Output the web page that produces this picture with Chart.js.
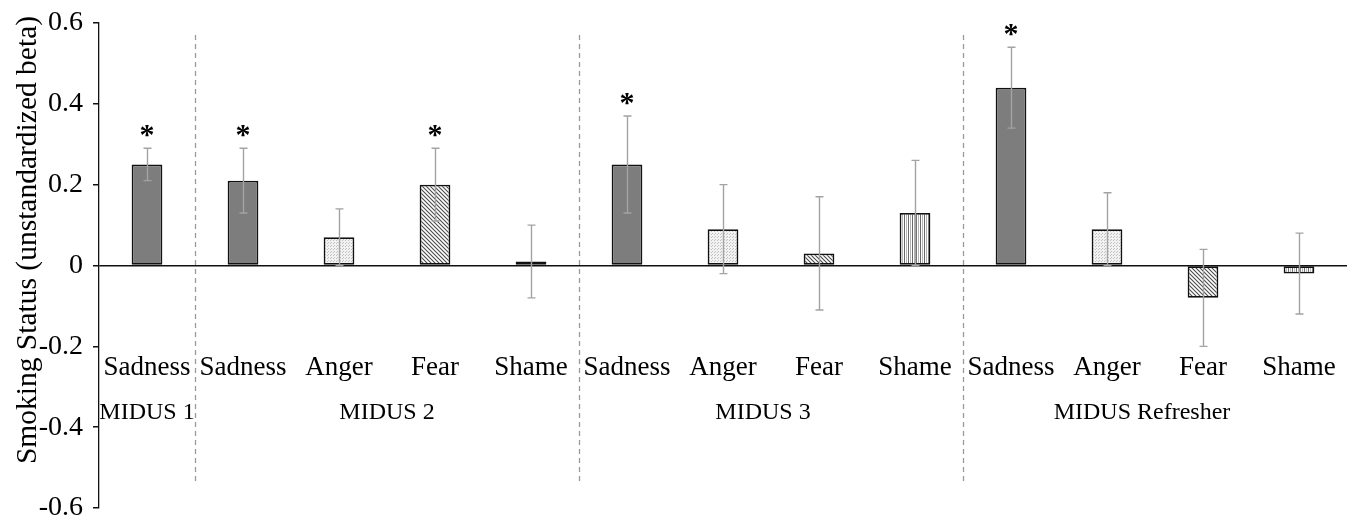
<!DOCTYPE html>
<html>
<head>
<meta charset="utf-8">
<script src="https://cdn.jsdelivr.net/npm/chart.js@4/dist/chart.umd.min.js"></script>
<style>
html,body{margin:0;padding:0;background:#fff;}
#wrap{width:1347px;height:519px;}
</style>
</head>
<body>
<div id="wrap"><canvas id="c" width="1347" height="519"></canvas></div>
<script>
const categories = ['Sadness','Sadness','Anger','Fear','Shame','Sadness','Anger','Fear','Shame','Sadness','Anger','Fear','Shame'];
const groups = ['MIDUS 1','MIDUS 2','MIDUS 3','MIDUS Refresher'];
const groupOf = [0,1,1,1,1,2,2,2,2,3,3,3,3];
const betas = [0.25,0.21,0.07,0.20,0.01,0.25,0.09,0.03,0.13,0.44,0.09,-0.08,-0.02];
const errLow = [0.21,0.13,0.00,0.11,-0.08,0.13,-0.02,-0.11,0.00,0.34,0.00,-0.20,-0.12];
const errHigh = [0.29,0.29,0.14,0.29,0.10,0.37,0.20,0.17,0.26,0.54,0.18,0.04,0.08];
const significant = [true,true,false,true,false,true,false,false,false,true,false,false,false];
const yTicks = [-0.6,-0.4,-0.2,0,0.2,0.4,0.6];
const yTitle = 'Smoking Status (unstandardized beta)';

// layout-only tweaks (pixels) for group label placement
const groupLabelNudge = [0, 0, -8, -13];

const SERIF = '"Liberation Serif","Times New Roman",Times,serif';

function makePattern(kind){
  const c = document.createElement('canvas');
  const g = c.getContext('2d');
  if (kind === 'Sadness') {
    c.width = 4; c.height = 4;
    g.fillStyle = '#7d7d7d'; g.fillRect(0,0,4,4);
  } else if (kind === 'Anger') {
    c.width = 3; c.height = 3;
    g.fillStyle = '#f2f2f2'; g.fillRect(0,0,3,3);
    g.fillStyle = '#c0c0c0'; g.fillRect(0,0,1,1); g.fillRect(1,2,1,1);
  } else if (kind === 'Fear') {
    c.width = 4; c.height = 4;
    g.fillStyle = '#ffffff'; g.fillRect(0,0,4,4);
    g.strokeStyle = '#4a4a4a'; g.lineWidth = 1.1;
    g.beginPath();
    g.moveTo(-1,-1); g.lineTo(5,5);
    g.moveTo(-1,3); g.lineTo(1,5);
    g.moveTo(3,-1); g.lineTo(5,1);
    g.stroke();
  } else {
    c.width = 4; c.height = 4;
    g.fillStyle = '#ffffff'; g.fillRect(0,0,4,4);
    g.fillStyle = '#6a6a6a'; g.fillRect(0,0,1,4);
    g.fillStyle = '#b5b5b5'; g.fillRect(2,0,1,4);
  }
  return g.createPattern(c,'repeat');
}

const fills = categories.map(makePattern);

const overlay = {
  id: 'overlay',
  beforeDatasetsDraw(chart){
    const {ctx, scales:{x,y}} = chart;
    ctx.save();
    ctx.strokeStyle = '#9a9a9a';
    ctx.lineWidth = 1.3;
    ctx.setLineDash([5,4]);
    for (let i = 1; i < categories.length; i++) {
      if (groupOf[i] !== groupOf[i-1]) {
        const px = Math.round((x.getPixelForValue(i-1) + x.getPixelForValue(i)) / 2) + 0.5;
        ctx.beginPath();
        ctx.moveTo(px, 35);
        ctx.lineTo(px, 481);
        ctx.stroke();
      }
    }
    ctx.restore();
  },
  afterDatasetsDraw(chart){
    const {ctx, scales:{x,y}} = chart;
    ctx.save();
    ctx.strokeStyle = '#a3a3a3';
    ctx.lineWidth = 1.4;
    categories.forEach((c,i)=>{
      const px = Math.round(x.getPixelForValue(i)) + 0.5;
      const top = y.getPixelForValue(errHigh[i]);
      const bot = y.getPixelForValue(errLow[i]);
      ctx.beginPath();
      ctx.moveTo(px, top); ctx.lineTo(px, bot);
      ctx.moveTo(px-4, top); ctx.lineTo(px+4, top);
      ctx.moveTo(px-4, bot); ctx.lineTo(px+4, bot);
      ctx.stroke();
    });
    ctx.fillStyle = '#000';
    ctx.textAlign = 'center';
    ctx.textBaseline = 'alphabetic';
    ctx.font = 'bold 30px ' + SERIF;
    categories.forEach((c,i)=>{
      if (significant[i]) {
        ctx.fillText('*', x.getPixelForValue(i), y.getPixelForValue(errHigh[i]) - 4);
      }
    });
    ctx.font = '27px ' + SERIF;
    categories.forEach((c,i)=>{
      ctx.fillText(c, x.getPixelForValue(i), 375);
    });
    ctx.font = '24px ' + SERIF;
    groups.forEach((gname, gi)=>{
      const idx = groupOf.map((g,i)=>g===gi?i:-1).filter(i=>i>=0);
      const cx = (x.getPixelForValue(idx[0]) + x.getPixelForValue(idx[idx.length-1])) / 2 + groupLabelNudge[gi];
      ctx.fillText(gname, cx, 419);
    });
    // y axis title
    ctx.translate(28, 240);
    ctx.rotate(-Math.PI / 2);
    ctx.textBaseline = 'middle';
    ctx.font = '29.5px ' + SERIF;
    ctx.fillText(yTitle, 0, 0);
    ctx.restore();
  }
};

new Chart(document.getElementById('c'), {
  type: 'bar',
  data: {
    labels: categories,
    datasets: [{
      data: betas,
      backgroundColor: fills,
      borderColor: '#111',
      borderWidth: 1.8,
      borderSkipped: false,
      barPercentage: 0.32,
      categoryPercentage: 1.0
    }]
  },
  options: {
    responsive: false,
    animation: false,
    events: [],
    layout: { padding: { top: 23, bottom: 11, left: 0, right: 0 } },
    plugins: { legend: { display: false }, tooltip: { enabled: false }, title: { display: false } },
    scales: {
      x: { display: false },
      y: {
        min: -0.6, max: 0.6,
        afterBuildTicks(scale){ scale.ticks = yTicks.map(v=>({value:v})); },
        afterFit(scale){ scale.width = 99; scale.paddingTop = 0; scale.paddingBottom = 0; },
        ticks: {
          color: '#000',
          font: { family: SERIF, size: 28 },
          padding: 10,
          callback: v => v === 0 ? '0' : Number(v).toFixed(1)
        },
        grid: {
          color: ctx => (ctx.tick && ctx.tick.value === 0) ? '#111' : 'rgba(0,0,0,0)',
          lineWidth: 1.5,
          tickColor: '#111',
          tickLength: 6,
          drawTicks: true
        },
        border: { display: true, color: '#111', width: 1.3 },
        title: { display: false }
      }
    }
  },
  plugins: [overlay]
});
</script>
</body>
</html>
